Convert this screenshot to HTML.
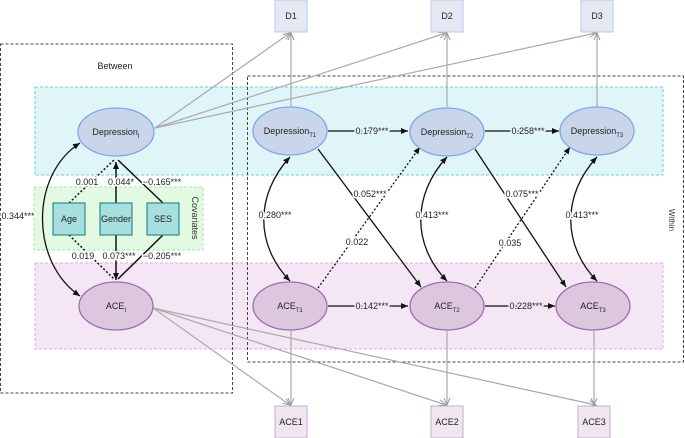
<!DOCTYPE html>
<html><head><meta charset="utf-8"><style>
html,body{margin:0;padding:0;background:#fff;}
svg{display:block;font-family:"Liberation Sans",sans-serif;}
</style></head><body>
<svg width="685" height="438" viewBox="0 0 685 438" xmlns="http://www.w3.org/2000/svg">
<defs>
<marker id="ak" markerWidth="8" markerHeight="8" refX="7" refY="4" orient="auto-start-reverse" markerUnits="userSpaceOnUse"><path d="M0,1 L7,4 L0,7 z" fill="#111"/></marker>
<marker id="ag" markerWidth="8" markerHeight="8" refX="7" refY="4" orient="auto" markerUnits="userSpaceOnUse"><path d="M0,1 L7,4 L0,7" fill="none" stroke="#999" stroke-width="1"/></marker>
</defs>
<rect x="35" y="87" width="628" height="88" fill="#dff5f8" stroke="#5fd3e3" stroke-dasharray="3,2"/>
<rect x="35" y="263" width="628" height="86" fill="#f4e6f5" stroke="#e4a8e4" stroke-dasharray="3,2"/>
<rect x="34" y="187" width="169" height="63" fill="#e2f9e2" stroke="#aee3ae" stroke-dasharray="3,2"/>
<rect x="0.5" y="44" width="232" height="349" fill="none" stroke="#444" stroke-dasharray="3,2"/>
<rect x="247.5" y="76" width="436" height="286" fill="none" stroke="#444" stroke-dasharray="3,2"/>
<text x="115" y="69" font-size="9" text-anchor="middle" fill="#222">Between</text>
<text x="669" y="220" font-size="8" fill="#333" text-anchor="middle" transform="rotate(90 669 220)">Within</text>
<text x="192" y="218" font-size="9" fill="#333" text-anchor="middle" transform="rotate(90 192 218)">Covariates</text>
<g stroke="#aaa" stroke-width="1.2" fill="none" marker-end="url(#ag)">
<line x1="155" y1="128" x2="290" y2="33"/>
<line x1="155" y1="128" x2="446" y2="33"/>
<line x1="155" y1="128" x2="596" y2="33"/>
<line x1="291" y1="107" x2="291" y2="33"/>
<line x1="447" y1="107" x2="447" y2="33"/>
<line x1="597" y1="107" x2="597" y2="33"/>
<line x1="153" y1="308" x2="290" y2="405"/>
<line x1="153" y1="308" x2="446" y2="405"/>
<line x1="153" y1="308" x2="596" y2="405"/>
<line x1="291" y1="331" x2="291" y2="405"/>
<line x1="447" y1="331" x2="447" y2="405"/>
<line x1="594" y1="331" x2="594" y2="405"/>
</g>
<g font-size="9" text-anchor="middle" fill="#222">
<rect x="275" y="0" width="32" height="32" fill="#e4e9f4" stroke="#b6cbef"/><text x="291" y="19">D1</text>
<rect x="431" y="0" width="32" height="32" fill="#e4e9f4" stroke="#b6cbef"/><text x="447" y="19">D2</text>
<rect x="581" y="0" width="32" height="32" fill="#e4e9f4" stroke="#b6cbef"/><text x="597" y="19">D3</text>
<rect x="275" y="406" width="32" height="32" fill="#efe6f0" stroke="#caa9d2"/><text x="291" y="425">ACE1</text>
<rect x="431" y="406" width="32" height="32" fill="#efe6f0" stroke="#caa9d2"/><text x="447" y="425">ACE2</text>
<rect x="578" y="406" width="32" height="32" fill="#efe6f0" stroke="#caa9d2"/><text x="594" y="425">ACE3</text>
</g>
<g stroke="#111" stroke-width="1.5" fill="none">
<line x1="69" y1="203" x2="114" y2="160" stroke-dasharray="2,2"/>
<line x1="116" y1="203" x2="116" y2="162" marker-end="url(#ak)"/>
<line x1="163" y1="203" x2="118" y2="160"/>
<line x1="69" y1="235" x2="114" y2="279" stroke-dasharray="2,2"/>
<line x1="116" y1="235" x2="116" y2="280" marker-end="url(#ak)"/>
<line x1="163" y1="235" x2="118" y2="279"/>
</g>
<g font-size="9" fill="#222" text-anchor="middle" paint-order="stroke" stroke="#fff" stroke-width="3">
<text x="87" y="185">0.001</text><text x="121" y="185">0.044*</text><text x="162" y="185">−0.165***</text>
<text x="83" y="259">0.019</text><text x="119" y="259">0.073***</text><text x="162" y="259">−0.205***</text>
</g>
<g font-size="9" text-anchor="middle" fill="#222">
<rect x="53" y="203" width="32" height="32" fill="#a9dede" stroke="#2b8c8c" stroke-width="1.2"/><text x="69" y="222">Age</text>
<rect x="100" y="203" width="32" height="32" fill="#a9dede" stroke="#2b8c8c" stroke-width="1.2"/><text x="116" y="222">Gender</text>
<rect x="147" y="203" width="32" height="32" fill="#a9dede" stroke="#2b8c8c" stroke-width="1.2"/><text x="163" y="222">SES</text>
</g>
<g stroke="#111" stroke-width="1.3" fill="none">
<path d="M80,143 C30,175 30,262 80,296" marker-start="url(#ak)" marker-end="url(#ak)"/>
<path d="M290,157 C255,195 255,245 290,281" marker-start="url(#ak)" marker-end="url(#ak)"/>
<path d="M447,157 C412,195 412,245 447,281" marker-start="url(#ak)" marker-end="url(#ak)"/>
<path d="M597,157 C562,195 562,245 597,281" marker-start="url(#ak)" marker-end="url(#ak)"/>
<line x1="328" y1="131" x2="408" y2="131" marker-end="url(#ak)"/>
<line x1="485" y1="131" x2="559" y2="131" marker-end="url(#ak)"/>
<line x1="328" y1="306" x2="408" y2="306" marker-end="url(#ak)"/>
<line x1="485" y1="306" x2="555" y2="306" marker-end="url(#ak)"/>
<line x1="318" y1="149" x2="421" y2="287" marker-end="url(#ak)"/>
<line x1="475" y1="149" x2="566" y2="287" marker-end="url(#ak)"/>
<line x1="318" y1="288" x2="420" y2="147" stroke-dasharray="2,2" marker-end="url(#ak)"/>
<line x1="475" y1="288" x2="570" y2="147" stroke-dasharray="2,2" marker-end="url(#ak)"/>
</g>
<g font-size="9" fill="#222" text-anchor="middle" paint-order="stroke" stroke-width="3">
<text x="18" y="219" stroke="#fff">0.344***</text>
<text x="275" y="218" stroke="#fff">0.280***</text>
<text x="432" y="218" stroke="#fff">0.413***</text>
<text x="582" y="218" stroke="#fff">0.413***</text>
<text x="370" y="197" stroke="#fff">0.052***</text>
<text x="522" y="197" stroke="#fff">0.075***</text>
<text x="357" y="245" stroke="#fff">0.022</text>
<text x="510" y="246" stroke="#fff">0.035</text>
<text x="372" y="134" stroke="#dff5f8">0.179***</text>
<text x="528" y="134" stroke="#dff5f8">0.258***</text>
<text x="372" y="309" stroke="#f4e6f5">0.142***</text>
<text x="526" y="309" stroke="#f4e6f5">0.228***</text>
</g>
<g stroke-width="1.3">
<ellipse cx="116" cy="132" rx="38" ry="24" fill="#c9d6ea" stroke="#7ea7ea"/>
<ellipse cx="290" cy="131" rx="37" ry="24" fill="#c9d6ea" stroke="#7ea7ea"/>
<ellipse cx="447" cy="132" rx="37" ry="24" fill="#c9d6ea" stroke="#7ea7ea"/>
<ellipse cx="597" cy="131" rx="37" ry="24" fill="#c9d6ea" stroke="#7ea7ea"/>
<ellipse cx="116" cy="306" rx="37" ry="24" fill="#dcc7de" stroke="#9a70b0"/>
<ellipse cx="290" cy="306" rx="37" ry="24" fill="#dcc7de" stroke="#9a70b0"/>
<ellipse cx="447" cy="306" rx="37" ry="24" fill="#dcc7de" stroke="#9a70b0"/>
<ellipse cx="593" cy="306" rx="37" ry="24" fill="#dcc7de" stroke="#9a70b0"/>
</g>
<g font-size="9" fill="#222" text-anchor="middle">
<text x="116" y="135">Depression<tspan font-size="6" dy="3">I</tspan></text>
<text x="290" y="134">Depression<tspan font-size="6" dy="3">T1</tspan></text>
<text x="447" y="135">Depression<tspan font-size="6" dy="3">T2</tspan></text>
<text x="597" y="134">Depression<tspan font-size="6" dy="3">T3</tspan></text>
<text x="116" y="309">ACE<tspan font-size="6" dy="3">I</tspan></text>
<text x="290" y="309">ACE<tspan font-size="6" dy="3">T1</tspan></text>
<text x="447" y="309">ACE<tspan font-size="6" dy="3">T2</tspan></text>
<text x="593" y="309">ACE<tspan font-size="6" dy="3">T3</tspan></text>
</g>
</svg>
</body></html>
